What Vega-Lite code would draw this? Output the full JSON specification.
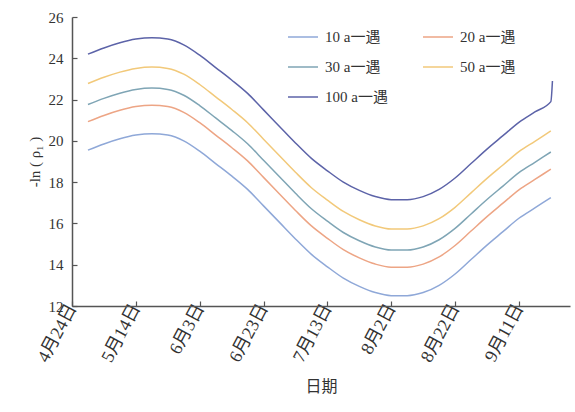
{
  "$schema": "https://vega.github.io/schema/vega-lite/v6.json",
  "width": 498,
  "height": 289,
  "autosize": "none",
  "padding": {"left": 72, "top": 17, "right": 5, "bottom": 106},
  "background": "white",
  "config": {
    "view": {"stroke": null},
    "font": "Liberation Serif, Noto Sans CJK SC",
    "axis": {
      "domainColor": "#555555",
      "domainWidth": 1.5,
      "tickColor": "#555555",
      "tickWidth": 1.2,
      "tickSize": -5,
      "labelColor": "#333333",
      "titleColor": "#333333",
      "labelFont": "Liberation Serif, Noto Sans CJK SC",
      "titleFont": "Liberation Serif, Noto Sans CJK SC",
      "titleFontWeight": "normal",
      "grid": false
    },
    "legend": {
      "labelFont": "Liberation Serif, Noto Sans CJK SC",
      "labelColor": "#333333"
    }
  },
  "data": {
    "values": [
      {"date": "2021-04-29", "10 a一遇": 19.55, "20 a一遇": 20.93, "30 a一遇": 21.76, "50 a一遇": 22.78, "100 a一遇": 24.20},
      {"date": "2021-05-04", "10 a一遇": 19.85, "20 a一遇": 21.23, "30 a一遇": 22.06, "50 a一遇": 23.08, "100 a一遇": 24.50},
      {"date": "2021-05-09", "10 a一遇": 20.10, "20 a一遇": 21.48, "30 a一遇": 22.31, "50 a一遇": 23.33, "100 a一遇": 24.75},
      {"date": "2021-05-14", "10 a一遇": 20.28, "20 a一遇": 21.66, "30 a一遇": 22.49, "50 a一遇": 23.51, "100 a一遇": 24.93},
      {"date": "2021-05-19", "10 a一遇": 20.35, "20 a一遇": 21.73, "30 a一遇": 22.56, "50 a一遇": 23.58, "100 a一遇": 25.00},
      {"date": "2021-05-24", "10 a一遇": 20.28, "20 a一遇": 21.66, "30 a一遇": 22.49, "50 a一遇": 23.51, "100 a一遇": 24.93},
      {"date": "2021-05-29", "10 a一遇": 20.00, "20 a一遇": 21.38, "30 a一遇": 22.21, "50 a一遇": 23.23, "100 a一遇": 24.65},
      {"date": "2021-06-03", "10 a一遇": 19.50, "20 a一遇": 20.88, "30 a一遇": 21.71, "50 a一遇": 22.73, "100 a一遇": 24.15},
      {"date": "2021-06-08", "10 a一遇": 18.90, "20 a一遇": 20.28, "30 a一遇": 21.11, "50 a一遇": 22.13, "100 a一遇": 23.55},
      {"date": "2021-06-13", "10 a一遇": 18.30, "20 a一遇": 19.68, "30 a一遇": 20.51, "50 a一遇": 21.53, "100 a一遇": 22.95},
      {"date": "2021-06-18", "10 a一遇": 17.65, "20 a一遇": 19.03, "30 a一遇": 19.86, "50 a一遇": 20.88, "100 a一遇": 22.30},
      {"date": "2021-06-23", "10 a一遇": 16.85, "20 a一遇": 18.23, "30 a一遇": 19.06, "50 a一遇": 20.08, "100 a一遇": 21.50},
      {"date": "2021-06-28", "10 a一遇": 16.05, "20 a一遇": 17.43, "30 a一遇": 18.26, "50 a一遇": 19.28, "100 a一遇": 20.70},
      {"date": "2021-07-03", "10 a一遇": 15.25, "20 a一遇": 16.63, "30 a一遇": 17.46, "50 a一遇": 18.48, "100 a一遇": 19.90},
      {"date": "2021-07-08", "10 a一遇": 14.50, "20 a一遇": 15.88, "30 a一遇": 16.71, "50 a一遇": 17.73, "100 a一遇": 19.15},
      {"date": "2021-07-13", "10 a一遇": 13.90, "20 a一遇": 15.28, "30 a一遇": 16.11, "50 a一遇": 17.13, "100 a一遇": 18.55},
      {"date": "2021-07-18", "10 a一遇": 13.35, "20 a一遇": 14.73, "30 a一遇": 15.56, "50 a一遇": 16.58, "100 a一遇": 18.00},
      {"date": "2021-07-23", "10 a一遇": 12.95, "20 a一遇": 14.33, "30 a一遇": 15.16, "50 a一遇": 16.18, "100 a一遇": 17.60},
      {"date": "2021-07-28", "10 a一遇": 12.65, "20 a一遇": 14.03, "30 a一遇": 14.86, "50 a一遇": 15.88, "100 a一遇": 17.30},
      {"date": "2021-08-02", "10 a一遇": 12.50, "20 a一遇": 13.88, "30 a一遇": 14.71, "50 a一遇": 15.73, "100 a一遇": 17.15},
      {"date": "2021-08-07", "10 a一遇": 12.50, "20 a一遇": 13.88, "30 a一遇": 14.71, "50 a一遇": 15.73, "100 a一遇": 17.15},
      {"date": "2021-08-12", "10 a一遇": 12.65, "20 a一遇": 14.03, "30 a一遇": 14.86, "50 a一遇": 15.88, "100 a一遇": 17.30},
      {"date": "2021-08-17", "10 a一遇": 13.00, "20 a一遇": 14.38, "30 a一遇": 15.21, "50 a一遇": 16.23, "100 a一遇": 17.65},
      {"date": "2021-08-22", "10 a一遇": 13.55, "20 a一遇": 14.93, "30 a一遇": 15.76, "50 a一遇": 16.78, "100 a一遇": 18.20},
      {"date": "2021-08-27", "10 a一遇": 14.25, "20 a一遇": 15.63, "30 a一遇": 16.46, "50 a一遇": 17.48, "100 a一遇": 18.90},
      {"date": "2021-09-01", "10 a一遇": 14.95, "20 a一遇": 16.33, "30 a一遇": 17.16, "50 a一遇": 18.18, "100 a一遇": 19.60},
      {"date": "2021-09-06", "10 a一遇": 15.60, "20 a一遇": 16.98, "30 a一遇": 17.81, "50 a一遇": 18.83, "100 a一遇": 20.25},
      {"date": "2021-09-11", "10 a一遇": 16.25, "20 a一遇": 17.63, "30 a一遇": 18.46, "50 a一遇": 19.48, "100 a一遇": 20.90},
      {"date": "2021-09-16", "10 a一遇": 16.75, "20 a一遇": 18.13, "30 a一遇": 18.96, "50 a一遇": 19.98, "100 a一遇": 21.40},
      {"date": "2021-09-21", "10 a一遇": 17.25, "20 a一遇": 18.63, "30 a一遇": 19.46, "50 a一遇": 20.48, "100 a一遇": 21.90},
      {"date": "2021-09-21T12:00:00Z", "100 a一遇": 22.90}
    ]
  },
  "transform": [
    {"fold": ["10 a一遇", "20 a一遇", "30 a一遇", "50 a一遇", "100 a一遇"], "as": ["series", "value"]},
    {"filter": "isValid(datum.value)"}
  ],
  "mark": {"type": "line", "strokeWidth": 1.5, "interpolate": "monotone"},
  "encoding": {
    "x": {
      "field": "date",
      "type": "temporal",
      "scale": {
        "type": "utc",
        "domain": [
          {"year": 2021, "month": 4, "date": 24, "utc": true},
          {"year": 2021, "month": 9, "date": 27, "utc": true}
        ]
      },
      "axis": {
        "title": "日期",
        "titleFontSize": 16,
        "titlePadding": 14,
        "labelFontSize": 18,
        "labelAngle": -62,
        "labelAlign": "right",
        "labelBaseline": "middle",
        "labelPadding": 4,
        "labelExpr": "utcFormat(datum.value, '%-m月%-d日')",
        "values": [
          {"year": 2021, "month": 4, "date": 24, "utc": true},
          {"year": 2021, "month": 5, "date": 14, "utc": true},
          {"year": 2021, "month": 6, "date": 3, "utc": true},
          {"year": 2021, "month": 6, "date": 23, "utc": true},
          {"year": 2021, "month": 7, "date": 13, "utc": true},
          {"year": 2021, "month": 8, "date": 2, "utc": true},
          {"year": 2021, "month": 8, "date": 22, "utc": true},
          {"year": 2021, "month": 9, "date": 11, "utc": true}
        ]
      }
    },
    "y": {
      "field": "value",
      "type": "quantitative",
      "scale": {"domain": [12, 26], "nice": false, "zero": false},
      "axis": {
        "title": "-ln ( ρ₁ )",
        "titleFontSize": 15,
        "titlePadding": 6,
        "labelFontSize": 15,
        "labelPadding": 14,
        "values": [12, 14, 16, 18, 20, 22, 24, 26]
      }
    },
    "color": {
      "field": "series",
      "type": "nominal",
      "scale": {
        "domain": ["10 a一遇", "30 a一遇", "100 a一遇", "20 a一遇", "50 a一遇"],
        "range": ["#8fa8d8", "#7fa5b5", "#5c63a8", "#eda585", "#f2c97a"]
      },
      "legend": {
        "title": null,
        "orient": "none",
        "legendX": 215,
        "legendY": 4,
        "columns": 2,
        "columnPadding": 32,
        "rowPadding": 6,
        "symbolType": "stroke",
        "symbolSize": 900,
        "symbolStrokeWidth": 1.5,
        "labelFontSize": 15,
        "labelOffset": 6
      }
    }
  }
}
